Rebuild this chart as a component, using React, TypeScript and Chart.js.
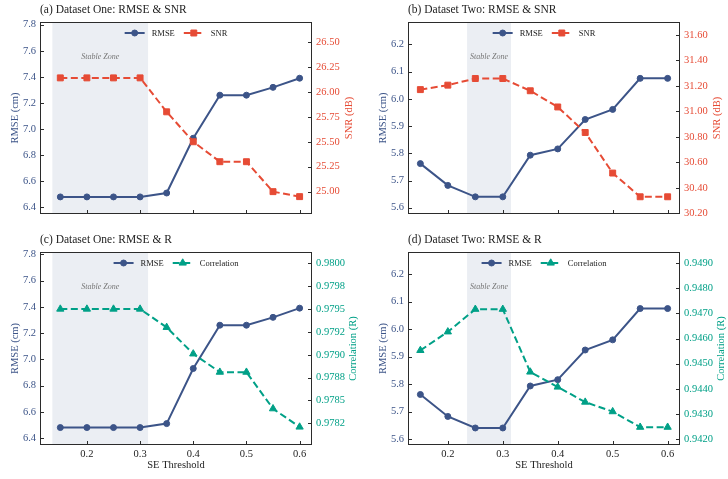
import { useEffect, useRef } from "react";
import { Chart, registerables } from "chart.js";

Chart.register(...registerables);

// ---------------- data ----------------
const thresholds = [0.15, 0.2, 0.25, 0.3, 0.35, 0.4, 0.45, 0.5, 0.55, 0.6];

const rmseOne = [6.48, 6.48, 6.48, 6.48, 6.51, 6.93, 7.26, 7.26, 7.32, 7.39];
const snrOne = [26.14, 26.14, 26.14, 26.14, 25.8, 25.5, 25.3, 25.3, 25.0, 24.95];
const corrOne = [0.9795, 0.9795, 0.9795, 0.9795, 0.9793, 0.97901, 0.97881, 0.97881, 0.97841, 0.97821];

const rmseTwo = [5.762, 5.682, 5.64, 5.64, 5.793, 5.816, 5.924, 5.961, 6.075, 6.075];
const snrTwo = [31.17, 31.205, 31.257, 31.257, 31.161, 31.034, 30.834, 30.516, 30.33, 30.33];
const corrTwo = [0.94553, 0.94627, 0.94717, 0.94717, 0.94467, 0.94407, 0.94347, 0.94309, 0.94247, 0.94247];

const stableZoneOne = [0.135, 0.315];
const stableZoneTwo = [0.235, 0.315];

const xTicks = [0.2, 0.3, 0.4, 0.5, 0.6];
const xTickLabels = ["0.2", "0.3", "0.4", "0.5", "0.6"];

const rmseTicksOne = [6.4, 6.6, 6.8, 7.0, 7.2, 7.4, 7.6, 7.8];
const rmseTickLabelsOne = ["6.4", "6.6", "6.8", "7.0", "7.2", "7.4", "7.6", "7.8"];
const rmseTicksTwo = [5.6, 5.7, 5.8, 5.9, 6.0, 6.1, 6.2];
const rmseTickLabelsTwo = ["5.6", "5.7", "5.8", "5.9", "6.0", "6.1", "6.2"];

const snrTicksOne = [25.0, 25.25, 25.5, 25.75, 26.0, 26.25, 26.5];
const snrTickLabelsOne = ["25.00", "25.25", "25.50", "25.75", "26.00", "26.25", "26.50"];
const snrTicksTwo = [30.2, 30.4, 30.6, 30.8, 31.0, 31.2, 31.4, 31.6];
const snrTickLabelsTwo = ["30.20", "30.40", "30.60", "30.80", "31.00", "31.20", "31.40", "31.60"];

const corrTicksOne = [0.97825, 0.9785, 0.97875, 0.979, 0.97925, 0.9795, 0.97975, 0.98];
const corrTickLabelsOne = ["0.9782", "0.9785", "0.9788", "0.9790", "0.9792", "0.9795", "0.9798", "0.9800"];
const corrTicksTwo = [0.942, 0.943, 0.944, 0.945, 0.946, 0.947, 0.948, 0.949];
const corrTickLabelsTwo = ["0.9420", "0.9430", "0.9440", "0.9450", "0.9460", "0.9470", "0.9480", "0.9490"];

// ---------------- styles ----------------
const W = 728;
const H = 479;
const BLUE = "#3C5488";
const RED = "#E64B35";
const GREEN = "#00A087";
const INK = "#222222";
const FONT = "'Liberation Serif', 'Times New Roman', Times, serif";
const LW = 30;
const RW = 45;
const XH = 20;

type Side = {
  values: number[];
  ticks: number[];
  labels: string[];
  min: number;
  max: number;
};

type Panel = {
  title: string;
  area: { left: number; top: number; right: number; bottom: number };
  xMin: number;
  xMax: number;
  zone: number[];
  rmse: Side;
  other: Side;
  otherName: string;
  otherTitle: string;
  otherColor: string;
  otherStyle: "rect" | "triangle";
  otherRadius: number;
  showX: boolean;
  rightTitleOffset: number;
};

const panels: Panel[] = [
  {
    title: "(a) Dataset One: RMSE & SNR",
    area: { left: 40, top: 22, right: 312, bottom: 214 },
    xMin: 0.1118, xMax: 0.6233, zone: stableZoneOne,
    rmse: { values: rmseOne, ticks: rmseTicksOne, labels: rmseTickLabelsOne, min: 6.349, max: 7.821 },
    other: { values: snrOne, ticks: snrTicksOne, labels: snrTickLabelsOne, min: 24.776, max: 26.70 },
    otherName: "SNR", otherTitle: "SNR (dB)", otherColor: RED, otherStyle: "rect", otherRadius: 4.2,
    showX: false, rightTitleOffset: 37,
  },
  {
    title: "(b) Dataset Two: RMSE & SNR",
    area: { left: 408, top: 22, right: 680, bottom: 214 },
    xMin: 0.1275, xMax: 0.6225, zone: stableZoneTwo,
    rmse: { values: rmseTwo, ticks: rmseTicksTwo, labels: rmseTickLabelsTwo, min: 5.577, max: 6.282 },
    other: { values: snrTwo, ticks: snrTicksTwo, labels: snrTickLabelsTwo, min: 30.195, max: 31.70 },
    otherName: "SNR", otherTitle: "SNR (dB)", otherColor: RED, otherStyle: "rect", otherRadius: 4.2,
    showX: false, rightTitleOffset: 37,
  },
  {
    title: "(c) Dataset One: RMSE & R",
    area: { left: 40, top: 252, right: 312, bottom: 445 },
    xMin: 0.1118, xMax: 0.6233, zone: stableZoneOne,
    rmse: { values: rmseOne, ticks: rmseTicksOne, labels: rmseTickLabelsOne, min: 6.347, max: 7.818 },
    other: { values: corrOne, ticks: corrTicksOne, labels: corrTickLabelsOne, min: 0.978013, max: 0.980124 },
    otherName: "Correlation", otherTitle: "Correlation (R)", otherColor: GREEN, otherStyle: "triangle", otherRadius: 4.2,
    showX: true, rightTitleOffset: 41,
  },
  {
    title: "(d) Dataset Two: RMSE & R",
    area: { left: 408, top: 252, right: 680, bottom: 445 },
    xMin: 0.1275, xMax: 0.6225, zone: stableZoneTwo,
    rmse: { values: rmseTwo, ticks: rmseTicksTwo, labels: rmseTickLabelsTwo, min: 5.578, max: 6.281 },
    other: { values: corrTwo, ticks: corrTicksTwo, labels: corrTickLabelsTwo, min: 0.94176, max: 0.94945 },
    otherName: "Correlation", otherTitle: "Correlation (R)", otherColor: GREEN, otherStyle: "triangle", otherRadius: 4.2,
    showX: true, rightTitleOffset: 41,
  },
];

function drawMarker(ctx: CanvasRenderingContext2D, style: string, x: number, y: number, r: number, color: string) {
  ctx.save();
  ctx.fillStyle = color;
  ctx.strokeStyle = color;
  ctx.lineWidth = 1;
  ctx.setLineDash([]);
  ctx.beginPath();
  if (style === "circle") {
    ctx.arc(x, y, r, 0, Math.PI * 2);
  } else if (style === "rect") {
    const s = Math.SQRT1_2 * r;
    ctx.rect(x - s, y - s, 2 * s, 2 * s);
  } else {
    let a = 0;
    ctx.moveTo(x + Math.sin(a) * r, y - Math.cos(a) * r);
    a += (2 * Math.PI) / 3;
    ctx.lineTo(x + Math.sin(a) * r, y - Math.cos(a) * r);
    a += (2 * Math.PI) / 3;
    ctx.lineTo(x + Math.sin(a) * r, y - Math.cos(a) * r);
    ctx.closePath();
  }
  ctx.fill();
  ctx.stroke();
  ctx.restore();
}

function makeDecor(p: Panel) {
  return {
    id: "decor",
    beforeDatasetsDraw(chart: any) {
      const { ctx, chartArea: a, scales } = chart;
      const xs = scales.x;
      const x0 = xs.getPixelForValue(p.zone[0]);
      const x1 = xs.getPixelForValue(p.zone[1]);
      ctx.save();
      ctx.fillStyle = "rgba(60,84,136,0.10)";
      ctx.fillRect(x0, a.top, x1 - x0, a.bottom - a.top);
      ctx.fillStyle = "#777777";
      ctx.font = `italic 8px ${FONT}`;
      ctx.textAlign = "center";
      ctx.textBaseline = "middle";
      ctx.fillText("Stable Zone", (x0 + x1) / 2, a.top + 35);
      ctx.restore();
    },
    afterDraw(chart: any) {
      const { ctx, chartArea: a, scales } = chart;
      ctx.save();
      // spines
      const L = Math.round(a.left) + 0.5;
      const R = Math.round(a.right) - 0.5;
      const T = Math.round(a.top) + 0.5;
      const B = Math.round(a.bottom) - 0.5;
      ctx.strokeStyle = "#2b2b2b";
      ctx.lineWidth = 1;
      ctx.strokeRect(L, T, R - L, B - T);
      // inward tick marks
      const tl = 3.5;
      ctx.beginPath();
      for (const t of scales.x.ticks) {
        const px = Math.round(scales.x.getPixelForValue(t.value)) + 0.5;
        ctx.moveTo(px, B);
        ctx.lineTo(px, B - tl);
      }
      for (const t of scales.y.ticks) {
        const py = Math.round(scales.y.getPixelForValue(t.value)) + 0.5;
        ctx.moveTo(L, py);
        ctx.lineTo(L + tl, py);
      }
      for (const t of scales.y2.ticks) {
        const py = Math.round(scales.y2.getPixelForValue(t.value)) + 0.5;
        ctx.moveTo(R, py);
        ctx.lineTo(R - tl, py);
      }
      ctx.stroke();

      // title
      ctx.fillStyle = INK;
      ctx.font = `11.5px ${FONT}`;
      ctx.textAlign = "left";
      ctx.textBaseline = "middle";
      ctx.fillText(p.title, a.left, a.top - 12);

      // axis titles
      ctx.font = `10.5px ${FONT}`;
      ctx.textAlign = "center";
      const cy = (a.top + a.bottom) / 2;
      const rot = (text: string, x: number, color: string) => {
        ctx.save();
        ctx.translate(x, cy);
        ctx.rotate(-Math.PI / 2);
        ctx.fillStyle = color;
        ctx.fillText(text, 0, 0);
        ctx.restore();
      };
      rot("RMSE (cm)", a.left - 25, BLUE);
      rot(p.otherTitle, a.right + p.rightTitleOffset, p.otherColor);
      if (p.showX) {
        ctx.fillStyle = INK;
        ctx.fillText("SE Threshold", (a.left + a.right) / 2, a.bottom + 20);
      }

      // legend
      ctx.font = `8.5px ${FONT}`;
      const items = [
        { label: "RMSE", color: BLUE, dash: [] as number[], style: "circle", r: 3 },
        { label: p.otherName, color: p.otherColor, dash: [7, 3.5], style: p.otherStyle, r: p.otherRadius },
      ];
      const lineLen = 20;
      const pad = 7;
      const gap = 9;
      const widths = items.map((it) => lineLen + pad + ctx.measureText(it.label).width);
      const total = widths[0] + gap + widths[1];
      let x = (a.left + a.right) / 2 - total / 2;
      const ly = a.top + 11;
      items.forEach((it, i) => {
        ctx.save();
        ctx.strokeStyle = it.color;
        ctx.lineWidth = 2;
        ctx.setLineDash(it.dash);
        ctx.beginPath();
        ctx.moveTo(x, ly);
        ctx.lineTo(x + lineLen, ly);
        ctx.stroke();
        ctx.restore();
        drawMarker(ctx, it.style, x + lineLen / 2, ly, it.r, it.color);
        ctx.fillStyle = INK;
        ctx.textAlign = "left";
        ctx.textBaseline = "middle";
        ctx.fillText(it.label, x + lineLen + pad, ly + 0.5);
        x += widths[i] + gap;
      });
      ctx.restore();
    },
  };
}

function setTicks(values: number[]) {
  return (scale: any) => {
    scale.ticks = values.map((v) => ({ value: v }));
  };
}

function PanelChart({ p }: { p: Panel }) {
  const ref = useRef<HTMLCanvasElement | null>(null);
  useEffect(() => {
    if (!ref.current) return;
    const chart = new Chart(ref.current, {
      type: "line",
      data: {
        datasets: [
          {
            label: p.otherName,
            data: thresholds.map((x, i) => ({ x, y: p.other.values[i] })),
            yAxisID: "y2",
            borderColor: p.otherColor,
            backgroundColor: p.otherColor,
            borderWidth: 2,
            borderDash: [7, 3.5],
            pointStyle: p.otherStyle,
            pointRadius: p.otherRadius,
            pointBorderWidth: 1,
            pointBorderColor: p.otherColor,
            pointBackgroundColor: p.otherColor,
            tension: 0,
            order: 0,
            clip: false,
          },
          {
            label: "RMSE",
            data: thresholds.map((x, i) => ({ x, y: p.rmse.values[i] })),
            yAxisID: "y",
            borderColor: BLUE,
            backgroundColor: BLUE,
            borderWidth: 2,
            pointStyle: "circle",
            pointRadius: 3,
            pointBorderWidth: 1,
            pointBorderColor: BLUE,
            pointBackgroundColor: BLUE,
            tension: 0,
            order: 1,
            clip: false,
          },
        ],
      },
      options: {
        responsive: false,
        animation: false,
        events: [],
        layout: {
          padding: {
            left: p.area.left - LW,
            right: W - p.area.right - RW,
            top: p.area.top,
            bottom: H - p.area.bottom - XH,
          },
        },
        plugins: {
          legend: { display: false },
          tooltip: { enabled: false },
          title: { display: false },
        },
        scales: {
          x: {
            type: "linear",
            min: p.xMin,
            max: p.xMax,
            bounds: "data",
            afterBuildTicks: setTicks(xTicks),
            afterFit: (s: any) => { s.height = XH; },
            grid: { display: false, drawTicks: false },
            border: { display: false },
            ticks: {
              display: p.showX,
              autoSkip: false,
              maxRotation: 0,
              padding: 3,
              color: INK,
              font: { family: FONT, size: 10.5 },
              callback: (_v: any, i: number) => xTickLabels[i],
            },
          },
          y: {
            type: "linear",
            position: "left",
            min: p.rmse.min,
            max: p.rmse.max,
            bounds: "data",
            afterBuildTicks: setTicks(p.rmse.ticks),
            afterFit: (s: any) => { s.width = LW; },
            grid: { display: false, drawTicks: false },
            border: { display: false },
            ticks: {
              autoSkip: false,
              padding: 4,
              color: BLUE,
              font: { family: FONT, size: 10.5 },
              callback: (_v: any, i: number) => p.rmse.labels[i],
            },
          },
          y2: {
            type: "linear",
            position: "right",
            min: p.other.min,
            max: p.other.max,
            bounds: "data",
            afterBuildTicks: setTicks(p.other.ticks),
            afterFit: (s: any) => { s.width = RW; },
            grid: { display: false, drawTicks: false },
            border: { display: false },
            ticks: {
              autoSkip: false,
              padding: 4,
              color: p.otherColor,
              font: { family: FONT, size: 10.5 },
              callback: (_v: any, i: number) => p.other.labels[i],
            },
          },
        },
      } as any,
      plugins: [makeDecor(p)],
    });
    return () => chart.destroy();
  }, [p]);
  return (
    <canvas
      ref={ref}
      width={W}
      height={H}
      style={{ position: "absolute", left: 0, top: 0, width: W, height: H }}
    />
  );
}

export default function App() {
  return (
    <div style={{ position: "fixed", left: 0, top: 0, width: W, height: H, background: "#ffffff", overflow: "hidden" }}>
      {panels.map((p) => (
        <PanelChart key={p.title} p={p} />
      ))}
    </div>
  );
}
